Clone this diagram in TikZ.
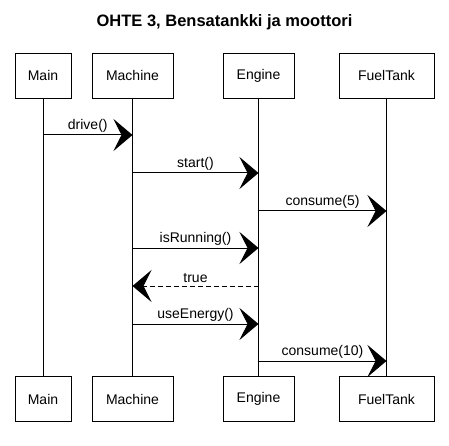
\documentclass[tikz,border=0pt]{standalone}
\usepackage{fontspec}
\setmainfont{Liberation Sans}
\usetikzlibrary{arrows.meta, positioning, calc}
\tikzset{
	actor/.style={draw, line width=0.9pt, minimum height=45pt, inner sep=0pt, font=\fontsize{14}{16}\selectfont},
	life/.style={line width=0.9pt},
	msg/.style={line width=1pt, -{Stealth[length=19pt, width=32pt, inset=8pt]}},
	reply/.style={msg, dash pattern=on 5pt off 3pt},
	lbl/.style={above, inner sep=2.5pt, font=\fontsize{14}{16}\selectfont}
}

\begin{document}
\begin{tikzpicture}
	\useasboundingbox (0pt, 0pt) rectangle (449pt, -446pt);
		\node[font=\bfseries\fontsize{16.5}{19}\selectfont] (title) at (224.5pt, -22pt) {OHTE 3, Bensatankki ja moottori};

		% participants, top and bottom
		\node[actor, minimum width=56pt] (mainTop) at (43pt, -75.5pt) {Main};
		\node[actor, minimum width=81pt] (machTop) at (132.5pt, -75.5pt) {Machine};
		\node[actor, minimum width=71pt] (engTop) at (258.5pt, -75.5pt) {Engine};
		\node[actor, minimum width=95pt] (tankTop) at (386.5pt, -75.5pt) {FuelTank};

		\node[actor, minimum width=56pt] (mainBot) at (43pt, -399pt) {Main};
		\node[actor, minimum width=81pt] (machBot) at (132.5pt, -399pt) {Machine};
		\node[actor, minimum width=71pt] (engBot) at (258.5pt, -399pt) {Engine};
		\node[actor, minimum width=95pt] (tankBot) at (386.5pt, -399pt) {FuelTank};

		% lifelines
		\draw[life] (mainTop) -- (mainBot);
		\draw[life] (machTop) -- (machBot);
		\draw[life] (engTop) -- (engBot);
		\draw[life] (tankTop) -- (tankBot);

		% messages
		\draw[msg] (mainTop |- 0, -135pt) -- node[lbl]{drive()} (machTop |- 0, -135pt);
		\draw[msg] (machTop |- 0, -173pt) -- node[lbl]{start()} (engTop |- 0, -173pt);
		\draw[msg] (engTop |- 0, -211pt) -- node[lbl]{consume(5)} (tankTop |- 0, -211pt);
		\draw[msg] (machTop |- 0, -248pt) -- node[lbl]{isRunning()} (engTop |- 0, -248pt);
		\draw[reply] (engTop |- 0, -286pt) -- node[lbl]{true} (machTop |- 0, -286pt);
		\draw[msg] (machTop |- 0, -324pt) -- node[lbl]{useEnergy()} (engTop |- 0, -324pt);
		\draw[msg] (engTop |- 0, -361pt) -- node[lbl]{consume(10)} (tankTop |- 0, -361pt);
\end{tikzpicture}
\end{document}
